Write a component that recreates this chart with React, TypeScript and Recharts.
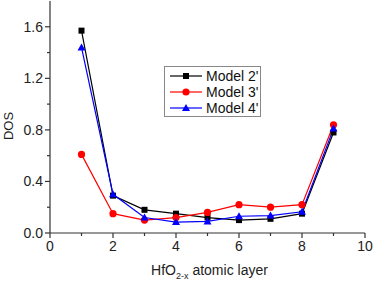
import { Legend, Line, LineChart, XAxis, YAxis } from "recharts"

const layers = [1, 2, 3, 4, 5, 6, 7, 8, 9]
const model2 = [1.57, 0.29, 0.18, 0.15, 0.12, 0.1, 0.11, 0.15, 0.78]
const model3 = [0.61, 0.15, 0.1, 0.12, 0.16, 0.22, 0.2, 0.22, 0.84]
const model4 = [1.44, 0.3, 0.12, 0.085, 0.09, 0.13, 0.135, 0.165, 0.81]

const xTicks = [0, 1, 2, 3, 4, 5, 6, 7, 8, 9, 10]
const yTicks = [0, 0.2, 0.4, 0.6, 0.8, 1.0, 1.2, 1.4, 1.6]

const data = layers.map((layer, i) => ({
  layer,
  m2: model2[i],
  m3: model3[i],
  m4: model4[i],
}))

const font = "'Liberation Sans', Arial, sans-serif"
const axisColor = "#333"

const markers: Record<string, string> = {
  "Model 2'": "square",
  "Model 3'": "circle",
  "Model 4'": "triangle",
}

function Marker({ type, cx, cy, color }: { type: string; cx: number; cy: number; color: string }) {
  if (type === "square") return <rect x={cx - 3} y={cy - 3} width={6} height={6} fill={color} />
  if (type === "circle") return <circle cx={cx} cy={cy} r={3.6} fill={color} />
  return <polygon points={`${cx},${cy - 4} ${cx - 4},${cy + 3} ${cx + 4},${cy + 3}`} fill={color} />
}

const makeDot = (type: string, color: string) => (props: any) => {
  const { cx, cy, index } = props
  return (
    <g key={`${type}-${index}`}>
      <Marker type={type} cx={cx} cy={cy} color={color} />
    </g>
  )
}

function XTick(props: any) {
  const { x, y, payload } = props
  const v = payload.value
  const major = v % 2 === 0
  const axisY = y - 7
  return (
    <g>
      <line x1={x} x2={x} y1={axisY} y2={axisY + (major ? 5 : 3)} stroke={axisColor} strokeWidth={1.2} />
      {major && (
        <text x={x} y={axisY + 7} dy="0.75em" textAnchor="middle" fontSize={14} fill="#222" fontFamily={font}>
          {v}
        </text>
      )}
    </g>
  )
}

function YTick(props: any) {
  const { x, y, payload } = props
  const v = payload.value
  const major = Math.round(v * 10) % 4 === 0
  const axisX = x + 7
  return (
    <g>
      <line x1={axisX} x2={axisX - (major ? 5 : 3)} y1={y} y2={y} stroke={axisColor} strokeWidth={1.2} />
      {major && (
        <text x={axisX - 7} y={y} dy="0.36em" textAnchor="end" fontSize={14} fill="#222" fontFamily={font}>
          {v.toFixed(1)}
        </text>
      )}
    </g>
  )
}

function LegendBox(props: any) {
  const { payload } = props
  return (
    <div
      style={{
        border: "1px solid #888",
        boxSizing: "border-box",
        width: 97,
        height: 51,
        padding: "1px 0 0 5px",
        background: "#fff",
        fontFamily: font,
        fontSize: 14,
      }}
    >
      {payload.map((p: any) => (
        <div key={p.value} style={{ display: "flex", alignItems: "center", height: 16 }}>
          <svg width={36} height={16}>
            <line x1={0} x2={32} y1={8} y2={8} stroke={p.color} strokeWidth={1.2} />
            <Marker type={markers[p.value]} cx={16} cy={8} color={p.color} />
          </svg>
          <span style={{ color: "#111", lineHeight: "16px" }}>{p.value}</span>
        </div>
      ))}
    </div>
  )
}

export default function App() {
  return (
    <div style={{ position: "absolute", left: 0, top: 0, background: "#fff" }}>
      <LineChart width={374} height={283} data={data} margin={{ top: 1, right: 9, bottom: 0, left: 0 }}>
        <XAxis
          dataKey="layer"
          type="number"
          domain={[0, 10]}
          ticks={xTicks}
          interval={0}
          height={50}
          tickLine={false}
          tickSize={5}
          tickMargin={2}
          tick={<XTick />}
          axisLine={{ stroke: axisColor, strokeWidth: 1.2 }}
          label={{
            content: (p: any) => {
              const vb = p.viewBox
              return (
                <text x={vb.x + vb.width / 2 + 2} y={275} textAnchor="middle" fontSize={14} fill="#222" fontFamily={font}>
                  HfO
                  <tspan fontSize={9} dy={4}>2-x</tspan>
                  <tspan dy={-4}> atomic layer</tspan>
                </text>
              )
            },
          }}
        />
        <XAxis
          xAxisId="top"
          orientation="top"
          type="number"
          domain={[0, 10]}
          height={0}
          tick={false}
          tickLine={false}
          axisLine={{ stroke: "#888", strokeWidth: 2 }}
        />
        <YAxis
          type="number"
          domain={[0, 1.8]}
          ticks={yTicks}
          interval={0}
          width={50}
          tickLine={false}
          tickSize={5}
          tickMargin={2}
          tick={<YTick />}
          axisLine={{ stroke: axisColor, strokeWidth: 1.2 }}
          label={{
            content: (p: any) => {
              const vb = p.viewBox
              const cx = 8
              const cy = vb.y + vb.height / 2 + 9
              return (
                <text x={cx} y={cy} transform={`rotate(-90 ${cx} ${cy})`} textAnchor="middle" dy="0.36em" fontSize={13} fill="#222" fontFamily={font}>
                  DOS
                </text>
              )
            },
          }}
        />
        <YAxis
          yAxisId="right"
          orientation="right"
          type="number"
          domain={[0, 1.8]}
          width={0}
          tick={false}
          tickLine={false}
          axisLine={{ stroke: "#888", strokeWidth: 2 }}
        />
        <Legend
          layout="vertical"
          align="center"
          verticalAlign="middle"
          content={<LegendBox />}
          wrapperStyle={{ left: 164, top: 66, width: 97, height: 51 }}
        />
        <Line dataKey="m2" name="Model 2'" stroke="#000" strokeWidth={1.2} dot={makeDot("square", "#000")} activeDot={false} isAnimationActive={false} />
        <Line dataKey="m3" name="Model 3'" stroke="#f00" strokeWidth={1.2} dot={makeDot("circle", "#f00")} activeDot={false} isAnimationActive={false} />
        <Line dataKey="m4" name="Model 4'" stroke="#00f" strokeWidth={1.2} dot={makeDot("triangle", "#00f")} activeDot={false} isAnimationActive={false} />
      </LineChart>
    </div>
  )
}
